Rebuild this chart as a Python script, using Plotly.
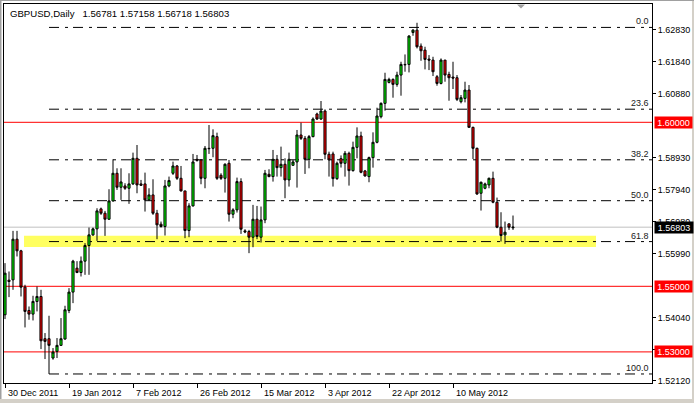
import plotly.graph_objects as go

# ---------------- data ----------------
bar_index = list(range(128))

opens = [
    1.54132, 1.55187, 1.55197, 1.56436, 1.56081, 1.54974, 1.54264, 1.54152, 1.54538, 1.54690,
    1.53402, 1.53402, 1.52813, 1.53016, 1.53199, 1.53392, 1.54264, 1.54823, 1.55553, 1.55421,
    1.55766, 1.56244, 1.56568, 1.56751, 1.57360, 1.57228, 1.57045, 1.57603, 1.58446, 1.58020,
    1.58060, 1.57989, 1.58122, 1.58902, 1.58122, 1.58122, 1.57634, 1.57786, 1.57228, 1.56893,
    1.56822, 1.58060, 1.58446, 1.58669, 1.58293, 1.57908, 1.56700, 1.57451, 1.58872, 1.58852,
    1.58293, 1.59207, 1.59207, 1.59563, 1.58385, 1.58293, 1.58751, 1.57197, 1.57330, 1.58192,
    1.56690, 1.56670, 1.56497, 1.57045, 1.56497, 1.57025, 1.58415, 1.58345, 1.58872, 1.58618,
    1.58720, 1.58243, 1.58689, 1.58791, 1.59613, 1.59511, 1.58872, 1.59563, 1.60253, 1.60100,
    1.60344, 1.59025, 1.59035, 1.58283, 1.58892, 1.58750, 1.59055, 1.58527, 1.59237, 1.59583,
    1.58517, 1.58344, 1.58923, 1.59390, 1.60171, 1.60577, 1.61217, 1.61308, 1.61156, 1.61440,
    1.61765, 1.61765, 1.62739, 1.62810, 1.62323, 1.62201, 1.61927, 1.61897, 1.61389, 1.61186,
    1.61897, 1.61460, 1.61379, 1.61359, 1.60628, 1.60729, 1.60983, 1.59846, 1.59207, 1.57837,
    1.57989, 1.58090, 1.58293, 1.57563, 1.56801, 1.56568, 1.56903, 1.56781,
]
highs = [
    1.55706, 1.55452, 1.56690, 1.56690, 1.56112, 1.55046, 1.54385, 1.54711, 1.54994, 1.54893,
    1.53574, 1.54102, 1.53117, 1.53422, 1.54031, 1.54407, 1.54944, 1.55807, 1.55766, 1.55909,
    1.56315, 1.56791, 1.56791, 1.57380, 1.57400, 1.57299, 1.57959, 1.58872, 1.58598, 1.58598,
    1.58142, 1.58446, 1.59075, 1.59308, 1.58243, 1.58466, 1.57989, 1.58263, 1.57330, 1.56974,
    1.58243, 1.58345, 1.58801, 1.58699, 1.58669, 1.57908, 1.57533, 1.59035, 1.59004, 1.58872,
    1.59278, 1.59917, 1.59786, 1.59684, 1.58446, 1.58751, 1.58852, 1.57380, 1.58314, 1.58293,
    1.56741, 1.56720, 1.57482, 1.57451, 1.57431, 1.58548, 1.58568, 1.59157, 1.59004, 1.59258,
    1.58902, 1.59075, 1.58852, 1.59766, 1.59989, 1.59583, 1.59613, 1.60151, 1.60293, 1.60649,
    1.60394, 1.59105, 1.59105, 1.58801, 1.58990, 1.59126, 1.59105, 1.59410, 1.59846, 1.59714,
    1.58547, 1.58953, 1.59694, 1.60445, 1.60608, 1.61511, 1.61359, 1.61339, 1.61542, 1.61846,
    1.62069, 1.62658, 1.62841, 1.63034, 1.62404, 1.62303, 1.62049, 1.61998, 1.61440, 1.61948,
    1.61897, 1.61542, 1.61846, 1.61440, 1.60831, 1.61237, 1.61136, 1.59867, 1.59227, 1.58192,
    1.58161, 1.58314, 1.58496, 1.57705, 1.57258, 1.56974, 1.56923, 1.57158,
]
lows = [
    1.54001, 1.54670, 1.54893, 1.55909, 1.54690, 1.53746, 1.53980, 1.53959, 1.54234, 1.53086,
    1.52782, 1.52327, 1.52762, 1.52813, 1.53179, 1.53371, 1.54182, 1.54487, 1.55400, 1.55299,
    1.55350, 1.55350, 1.56537, 1.56385, 1.57177, 1.56537, 1.57025, 1.57583, 1.57939, 1.57634,
    1.57939, 1.57513, 1.58090, 1.57837, 1.58060, 1.57279, 1.57614, 1.57177, 1.56436, 1.56791,
    1.56548, 1.58020, 1.58395, 1.58243, 1.57888, 1.56467, 1.56497, 1.57431, 1.58801, 1.58111,
    1.57989, 1.59035, 1.58934, 1.58243, 1.58243, 1.57857, 1.56974, 1.57076, 1.57248, 1.56598,
    1.56619, 1.56010, 1.56192, 1.56436, 1.56335, 1.56924, 1.58325, 1.58192, 1.58345, 1.58345,
    1.57685, 1.58040, 1.58669, 1.58009, 1.59461, 1.58426, 1.58598, 1.59543, 1.60070, 1.60070,
    1.58872, 1.58345, 1.58040, 1.58243, 1.58620, 1.58344, 1.58070, 1.58496, 1.58902, 1.58446,
    1.58344, 1.58172, 1.58618, 1.59359, 1.60120, 1.60354, 1.61186, 1.60750, 1.61085, 1.60811,
    1.61542, 1.61521, 1.62638, 1.62252, 1.61876, 1.61613, 1.61592, 1.61410, 1.61115, 1.61156,
    1.61237, 1.60658, 1.61014, 1.60648, 1.60577, 1.60608, 1.59836, 1.58882, 1.57786, 1.57309,
    1.57958, 1.57989, 1.57532, 1.56771, 1.56365, 1.56294, 1.56720, 1.56718,
]
closes = [
    1.55400, 1.55147, 1.56436, 1.56081, 1.54974, 1.54234, 1.54152, 1.54538, 1.54690, 1.53340,
    1.53320, 1.53199, 1.52996, 1.53199, 1.53402, 1.54284, 1.54823, 1.55766, 1.55421, 1.55766,
    1.56244, 1.56568, 1.56751, 1.57299, 1.57228, 1.57045, 1.57603, 1.58446, 1.58020, 1.58182,
    1.57989, 1.58122, 1.58902, 1.58090, 1.58080, 1.57634, 1.57786, 1.57228, 1.56873, 1.56822,
    1.58060, 1.58223, 1.58669, 1.58293, 1.57908, 1.56700, 1.57451, 1.58791, 1.58842, 1.58293,
    1.59207, 1.59197, 1.59593, 1.58293, 1.58293, 1.58720, 1.57197, 1.57330, 1.58192, 1.56741,
    1.56660, 1.56497, 1.57045, 1.56518, 1.57025, 1.58446, 1.58345, 1.58872, 1.58618, 1.58720,
    1.58243, 1.58872, 1.58791, 1.59613, 1.59511, 1.58872, 1.59563, 1.60100, 1.60100, 1.60344,
    1.59025, 1.58852, 1.58283, 1.58751, 1.58750, 1.59055, 1.58527, 1.59237, 1.59583, 1.58476,
    1.58364, 1.58923, 1.59390, 1.60192, 1.60577, 1.61308, 1.61308, 1.61156, 1.61440, 1.61765,
    1.61755, 1.62628, 1.62810, 1.62303, 1.62181, 1.61917, 1.61897, 1.61542, 1.61186, 1.61897,
    1.61440, 1.61359, 1.61349, 1.60699, 1.60750, 1.60983, 1.59846, 1.59207, 1.57816, 1.58172,
    1.58121, 1.58293, 1.57563, 1.56801, 1.56548, 1.56649, 1.56801, 1.56803,
]

date_tick_bars = [0, 16, 32, 48, 64, 80, 96, 112]
date_tick_labels = ["30 Dec 2011", "19 Jan 2012", "7 Feb 2012", "26 Feb 2012",
                    "15 Mar 2012", "3 Apr 2012", "22 Apr 2012", "10 May 2012"]

price_ticks = [1.62830, 1.61840, 1.60880, 1.58930, 1.57940,
               1.56980, 1.55990, 1.54040, 1.53080, 1.52120]
price_tick_labels = ["1.62830", "1.61840", "1.60880", "1.58930", "1.57940",
                     "1.56980", "1.55990", "1.54040", "1.53080", "1.52120"]

level_prices = [1.60000, 1.55000, 1.53000]
level_labels = ["1.60000", "1.55000", "1.53000"]
current_price = 1.56803
current_label = "1.56803"

fib_low, fib_high = 1.52327, 1.62893
fib_levels = [0.0, 23.6, 38.2, 50.0, 61.8, 100.0]
fib_level_labels = ["0.0", "23.6", "38.2", "50.0", "61.8", "100.0"]
fib_start_bar = 11

zone_low, zone_high = 1.5620, 1.5654
zone_start_bar, zone_end_bar = 4.75, 147.75

title_text = "GBPUSD,Daily&nbsp;&nbsp;&nbsp;1.56781&nbsp;1.57158&nbsp;1.56718&nbsp;1.56803"

# ---------------- figure ----------------
W, H = 694, 403
ML, MR, MT, MB = 4, 42, 4, 20
PW, PH = W - ML - MR, H - MT - MB
FONT = "Liberation Sans, Arial, sans-serif"


def px_x(p):
    return (p - ML) / PW


def px_y(p):
    return (H - MB - p) / PH


fig = go.Figure()
fig.add_trace(go.Candlestick(
    x=bar_index, open=opens, high=highs, low=lows, close=closes,
    increasing=dict(line=dict(color="black", width=1), fillcolor="#00FF00"),
    decreasing=dict(line=dict(color="black", width=1), fillcolor="#FF0000"),
    whiskerwidth=0, hoverinfo="skip", showlegend=False,
))

shapes = []
# support zone
shapes.append(dict(type="rect", xref="x", yref="y", x0=zone_start_bar, x1=zone_end_bar,
                   y0=zone_low, y1=zone_high, fillcolor="#FFFF60", line=dict(width=0),
                   layer="below"))
# current price line
shapes.append(dict(type="line", xref="paper", yref="y", x0=0, x1=1,
                   y0=current_price, y1=current_price,
                   line=dict(color="#C0C0C0", width=1), layer="below"))
# fibonacci levels
fib_prices = [fib_high - r / 100.0 * (fib_high - fib_low) for r in fib_levels]
for fp in fib_prices:
    shapes.append(dict(type="line", xref="x", yref="y", x0=fib_start_bar, x1=161.75,
                       y0=fp, y1=fp, line=dict(color="black", width=1, dash="10px,6px,3px,5px"),
                       layer="below"))
# horizontal red levels
for lp in level_prices:
    shapes.append(dict(type="line", xref="paper", yref="y", x0=0, x1=1, y0=lp, y1=lp,
                       line=dict(color="#FF0000", width=1), layer="below"))
# chart-shift marker (small grey triangle)
shapes.append(dict(type="path", xref="paper", yref="paper",
                   path=f"M {px_x(517)},{px_y(4.5)} L {px_x(525)},{px_y(4.5)} L {px_x(521)},{px_y(8.5)} Z",
                   fillcolor="#A0A0A0", line=dict(width=0), layer="above"))
# window frame
shapes.append(dict(type="rect", xref="paper", yref="paper", x0=px_x(0), x1=px_x(1.5),
                   y0=px_y(403), y1=px_y(0), fillcolor="#A0A0A0", line=dict(width=0)))
shapes.append(dict(type="rect", xref="paper", yref="paper", x0=px_x(692), x1=px_x(694),
                   y0=px_y(403), y1=px_y(0), fillcolor="#D4D0C8", line=dict(width=0)))
shapes.append(dict(type="rect", xref="paper", yref="paper", x0=px_x(0), x1=px_x(694),
                   y0=px_y(403), y1=px_y(399), fillcolor="#D4D0C8", line=dict(width=0)))
shapes.append(dict(type="rect", xref="paper", yref="paper", x0=px_x(0), x1=px_x(694),
                   y0=px_y(1), y1=px_y(0), fillcolor="#A0A0A0", line=dict(width=0)))

annotations = []
annotations.append(dict(text=title_text, xref="paper", yref="paper", x=px_x(8), y=px_y(13),
                        xanchor="left", yanchor="middle", showarrow=False,
                        font=dict(family=FONT, size=9.6, color="black")))
for fp, lab in zip(fib_prices, fib_level_labels):
    annotations.append(dict(text=lab, xref="paper", yref="y", x=1, y=fp, xshift=-1, yshift=6,
                            xanchor="right", yanchor="middle", showarrow=False,
                            font=dict(family=FONT, size=9, color="#202020")))
for b, lab in zip(date_tick_bars, date_tick_labels):
    annotations.append(dict(text=lab, xref="x", yref="paper", x=b, y=px_y(392.5), xshift=1,
                            xanchor="left", yanchor="middle", showarrow=False,
                            font=dict(family=FONT, size=9, color="black")))
for lp, lab in zip(level_prices, level_labels):
    annotations.append(dict(text=lab, xref="paper", yref="y", x=1, y=lp, xshift=2,
                            xanchor="left", yanchor="middle", showarrow=False,
                            width=37, height=11, borderpad=0, bgcolor="#FF0000",
                            font=dict(family=FONT, size=9, color="white")))
annotations.append(dict(text=current_label, xref="paper", yref="y", x=1, y=current_price, xshift=2,
                        xanchor="left", yanchor="middle", showarrow=False,
                        width=38, height=11, borderpad=0, bgcolor="black",
                        font=dict(family=FONT, size=9, color="white")))

fig.update_layout(
    width=W, height=H, margin=dict(l=ML, r=MR, t=MT, b=MB, pad=0),
    paper_bgcolor="white", plot_bgcolor="white",
    showlegend=False, boxgap=0.25,
    shapes=shapes, annotations=annotations,
    xaxis=dict(range=[-0.25, 161.75], showgrid=False, zeroline=False,
               showline=True, mirror=True, linecolor="black", linewidth=1,
               tickvals=date_tick_bars, ticktext=date_tick_labels, showticklabels=False,
               ticks="outside", ticklen=4, tickcolor="black", tickwidth=1,
               rangeslider=dict(visible=False), fixedrange=True),
    yaxis=dict(range=[1.520518, 1.636067], side="right", showgrid=False, zeroline=False,
               showline=True, mirror=True, linecolor="black", linewidth=1,
               tickvals=price_ticks, ticktext=price_tick_labels,
               ticks="outside", ticklen=3, tickcolor="black", tickwidth=1,
               tickfont=dict(family=FONT, size=9, color="black"), fixedrange=True),
)

fig.write_html("out.html", config={"displayModeBar": False},
               post_script="document.body.style.margin='0px';document.body.style.overflow='hidden';")
